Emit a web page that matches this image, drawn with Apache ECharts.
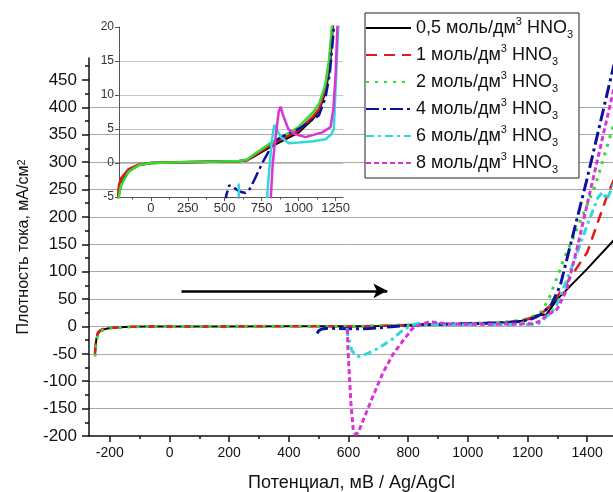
<!DOCTYPE html>
<html><head><meta charset="utf-8">
<script src="https://cdn.jsdelivr.net/npm/echarts@6/dist/echarts.min.js"></script>
<style>html,body{margin:0;padding:0;background:#fff}#c{width:613px;height:492px}</style>
</head><body><div id="c"></div>
<script>
// ---- data ----
const concentrations = ['0,5', '1', '2', '4', '6', '8'];
const seriesColors = ['#000000', '#e4191c', '#33dd33', '#10109e', '#2fd9d9', '#d834d8'];

const pot05 = [-250,-248,-245,-240,-232,-215,-200,-150,-80,0,200,400,600,650,700,800,900,1000,1100,1140,1180,1210,1230,1264,1297,1400,1490];
const cur05 = [-52,-36,-22,-13,-8,-4.5,-3,-1.2,-0.3,0,0.1,0.2,0.3,0.4,1.0,2.3,3.4,4.5,6.6,7.8,10.5,14,20,22,48,105,158];

const pot1 = [-250,-248,-245,-240,-232,-215,-200,-150,-80,0,200,400,600,650,700,800,900,1000,1100,1140,1180,1208,1228,1250,1280,1320,1400,1470,1490];
const cur1 = [-50,-33,-20,-11,-7,-3.2,-2.2,-0.9,-0.2,0,0.1,0.2,0.3,0.4,1.1,2.5,3.7,4.8,6.9,8.0,11,15,20,25,40,70,135,243,268];

const pot2 = [-250,-248,-245,-240,-232,-215,-200,-150,-80,0,200,400,600,650,700,800,900,1000,1100,1140,1180,1205,1225,1250,1275,1320,1426,1490];
const cur2 = [-55,-40,-26,-15,-9,-4.8,-3.2,-1.3,-0.3,0,0.1,0.2,0.3,0.5,1.3,2.8,4.0,5.3,7.5,8.8,11.5,15,20,28,55,120,255,370];

const pot4 = [495,500,510,530,560,600,640,670,700,754,800,844,900,1000,1137,1180,1210,1235,1250,1280,1310,1400,1480,1490];
const cur4 = [-13,-8,-4.8,-3.3,-3.6,-4.2,-4.4,-3.8,-2.5,0,1.8,3.3,4.0,5.0,7.0,9.5,13,19,24,40,75,270,455,478];

const pot6 = [595,598,612,631,650,700,750,775,790,805,820,835,850,880,934,1000,1100,1182,1220,1238,1248,1258,1280,1297,1350,1400,1437,1452,1465,1480,1490];
const cur6 = [-3,-19,-45,-55,-53,-40,-22,-10,-4,0,3.5,5.6,5.0,3.8,2.9,3.0,3.2,3.5,4.2,5,10,15,26,38,110,185,236,245,232,248,260];

const pot8 = [596,598,608,616,624,632,650,680,715,750,780,800,812,825,845,865,878,895,930,968,1047,1160,1216,1235,1250,1262,1280,1300,1331,1365,1490];
const cur8 = [-5,-40,-140,-190,-197,-194,-170,-130,-85,-50,-28,-14,-5,0,4,7.5,8.3,7,5,4.3,3.8,4.5,5.3,8,13,20,25,32,67,140,435];

const xMajorTicks = [-200,0,200,400,600,800,1000,1200,1400];
const xMinorTicks = [-100,100,300,500,700,900,1100,1300];
const yMajorTicks = [-200,-150,-100,-50,0,50,100,150,200,250,300,350,400,450];
const insetXTicks = [0,250,500,750,1000,1250];
const insetXMinorTicks = [-125,125,375,625,875,1125];
const arrowFrom = [40, 65];
const arrowTo = [730, 65];

// ---- build ----
const potentials = [pot05, pot1, pot2, pot4, pot6, pot8];
const currents = [cur05, cur1, cur2, cur4, cur6, cur8];
const seriesNames = concentrations.map(c => c + ' моль/дм3 HNO3');
const dashes = ['solid', [11, 7], [3, 6], [13, 4, 3, 4], [8, 4, 3, 4], [5, 3]];
const widths = [2, 2.5, 3, 3, 3, 3];
const FONT = '"Liberation Sans", Arial, sans-serif';
const zip = (xs, ys) => xs.map((x, i) => [x, ys[i]]);
const plain = v => String(v);

const series = [];
seriesNames.forEach((n, i) => {
  const s = {
    name: n, type: 'line', xAxisIndex: 0, yAxisIndex: 0,
    data: zip(potentials[i], currents[i]), symbol: 'none', smooth: false,
    lineStyle: { color: seriesColors[i], width: widths[i], type: dashes[i] },
    itemStyle: { color: seriesColors[i] }, z: 3
  };
  if (i === 0) {
    s.markLine = {
      silent: true, symbol: ['none', 'arrow'], symbolSize: [11, 14],
      lineStyle: { color: '#000', width: 2.5, type: 'solid' },
      label: { show: false },
      data: [[{ coord: arrowFrom }, { coord: arrowTo }]]
    };
  }
  series.push(s);
});
seriesNames.forEach((n, i) => {
  series.push({
    name: 'inset ' + n, type: 'line', xAxisIndex: 2, yAxisIndex: 1,
    data: zip(potentials[i], currents[i]), symbol: 'none',
    lineStyle: { color: seriesColors[i], width: 2.5, type: i === 3 ? dashes[3] : 'solid' },
    z: 4
  });
});

const chart = echarts.init(document.getElementById('c'), null, { renderer: 'canvas' });
chart.setOption({
  animation: false,
  backgroundColor: '#fff',
  textStyle: { fontFamily: FONT },
  grid: [
    { left: 89, top: 58, width: 525, height: 378, outerBoundsMode: 'none', containLabel: false },
    { left: 119, top: 27, width: 224, height: 170, outerBoundsMode: 'none', containLabel: false }
  ],
  xAxis: [
    {
      gridIndex: 0, type: 'value', min: -270, max: 1490, position: 'bottom',
      name: 'Потенциал, мВ / Ag/AgCl', nameLocation: 'middle', nameGap: 38,
      nameTextStyle: { fontSize: 18, color: '#111', fontFamily: FONT },
      axisLine: { onZero: false, lineStyle: { color: '#111', width: 1.5 } },
      axisTick: { customValues: xMajorTicks, length: 6, lineStyle: { color: '#111', width: 1.5 } },
      axisLabel: { customValues: xMajorTicks, formatter: plain, fontSize: 14, color: '#111', margin: 10, fontFamily: FONT },
      splitLine: { show: false }
    },
    {
      gridIndex: 0, type: 'value', min: -270, max: 1490, position: 'bottom', offset: 0,
      axisLine: { show: false, onZero: false },
      axisTick: { customValues: xMinorTicks, length: 3, lineStyle: { color: '#111', width: 1.5 } },
      axisLabel: { show: false },
      splitLine: { show: false }
    },
    {
      gridIndex: 1, type: 'value', min: -215, max: 1300, position: 'bottom',
      axisLine: { onZero: false, lineStyle: { color: '#555', width: 1 } },
      axisTick: { customValues: insetXTicks, length: 4, lineStyle: { color: '#555' } },
      axisLabel: { customValues: insetXTicks, formatter: plain, fontSize: 13, color: '#333', margin: 5, fontFamily: FONT },
      splitLine: { show: false }
    },
    {
      gridIndex: 1, type: 'value', min: -215, max: 1300, position: 'bottom', offset: 0,
      axisLine: { show: false, onZero: false },
      axisTick: { customValues: insetXMinorTicks, length: 2.5, lineStyle: { color: '#555' } },
      axisLabel: { show: false },
      splitLine: { show: false }
    }
  ],
  yAxis: [
    {
      gridIndex: 0, type: 'value', min: -200, max: 490, interval: 50,
      name: 'Плотность тока, мА/см{s|2}', nameLocation: 'middle', nameGap: 56, nameRotate: 90,
      nameTextStyle: { fontSize: 16, color: '#111', fontFamily: FONT,
        rich: { s: { fontSize: 11, verticalAlign: 'top', lineHeight: 11, fontFamily: FONT, color: '#111' } } },
      axisLine: { onZero: false, lineStyle: { color: '#111', width: 1.5 } },
      axisTick: { customValues: yMajorTicks, length: 7, lineStyle: { color: '#111', width: 1.5 } },
      minorTick: { show: true, splitNumber: 2, length: 4, lineStyle: { color: '#111', width: 1.5 } },
      axisLabel: { customValues: yMajorTicks, formatter: plain, fontSize: 17, color: '#111', margin: 12, fontFamily: FONT },
      splitLine: { show: true, showMinLine: false, showMaxLine: false, lineStyle: { color: '#a8a8a8', width: 1 } }
    },
    {
      gridIndex: 1, type: 'value', min: -5, max: 20, interval: 5,
      axisLine: { onZero: false, lineStyle: { color: '#555', width: 1 } },
      axisTick: { length: 4, lineStyle: { color: '#555' } },
      axisLabel: { fontSize: 12, color: '#333', margin: 5, fontFamily: FONT },
      splitLine: { show: true, showMinLine: false, showMaxLine: false, lineStyle: { color: '#c4c4c4', width: 1 } }
    }
  ],
  legend: {
    data: seriesNames, orient: 'vertical', left: 365, top: 13,
    itemWidth: 45, itemHeight: 14, itemGap: 3,
    backgroundColor: '#fff', borderColor: '#222', borderWidth: 1, borderRadius: 0,
    padding: [3, 6, 3, 0],
    itemStyle: { opacity: 0 },
    formatter: name => {
      const c = name.split(' ')[0];
      return '{a|' + c + ' моль/дм}{s|3}{a| HNO}{b|3}';
    },
    textStyle: {
      color: '#111', fontFamily: FONT,
      rich: {
        a: { fontSize: 18, lineHeight: 24, fontFamily: FONT, color: '#111' },
        s: { fontSize: 11, lineHeight: 11, verticalAlign: 'top', fontFamily: FONT, color: '#111' },
        b: { fontSize: 11, lineHeight: 11, verticalAlign: 'bottom', fontFamily: FONT, color: '#111' }
      }
    }
  },
  series: series
});
</script>
</body></html>
